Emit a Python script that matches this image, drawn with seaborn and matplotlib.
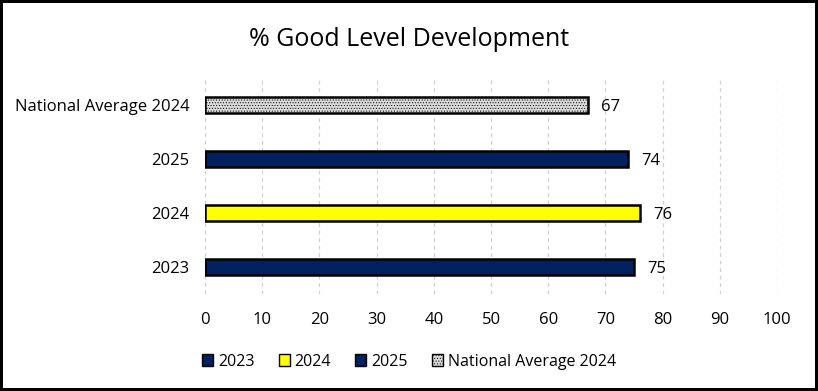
import matplotlib
matplotlib.use("Agg")
import matplotlib.pyplot as plt
import matplotlib.patches as mpatches
import pandas as pd
import seaborn as sns

# data (top to bottom as drawn)
categories = ["National Average 2024", "2025", "2024", "2023"]
values = [67, 74, 76, 75]
legend_order = ["2023", "2024", "2025", "National Average 2024"]
colors = {"2023": "#002060", "2024": "#FFFF00", "2025": "#002060",
          "National Average 2024": "#D9D9D9"}

df = pd.DataFrame({"group": categories, "pct": values})

sns.set_style("white")
plt.rcParams['font.family'] = ['Open Sans', 'DejaVu Sans']
plt.rcParams['hatch.color'] = "#BDBDBD"
plt.rcParams['hatch.linewidth'] = 0.4
plt.rcParams['text.color'] = "black"
plt.rcParams['xtick.color'] = "black"
plt.rcParams['ytick.color'] = "black"

fig = plt.figure(figsize=(8.18, 3.91), dpi=100)
fig.patch.set_edgecolor("black")
fig.patch.set_linewidth(3)
ax = fig.add_axes([0.2506, 0.248, 0.6993, 0.5525])

sns.barplot(data=df, y="group", x="pct", hue="group", order=categories,
            palette=colors, saturation=1, dodge=False, legend=False, width=0.31,
            edgecolor="black", linewidth=1.8, ax=ax)

# dotted fill for the national bar
for bar, cat in zip(ax.patches, categories):
    if cat == "National Average 2024":
        bar.set_hatch("......")

for bar, v in zip(ax.patches, values):
    ax.text(bar.get_width() + 2.3, bar.get_y() + bar.get_height() / 2 + 0.04,
            f"{v}", va="center", ha="left", fontsize=12)

ax.set_xlim(0, 100)
ax.set_xticks(range(0, 101, 10))
ax.xaxis.grid(True, color="#D0D0D0", linestyle=(0, (3, 3)), linewidth=0.9)
ax.set_axisbelow(True)
for s in ax.spines.values():
    s.set_visible(False)
ax.set_xlabel("")
ax.set_ylabel("")
ax.tick_params(axis="both", length=0, labelsize=12)
ax.tick_params(axis="x", pad=13)
ax.tick_params(axis="y", pad=11)

fig.suptitle("% Good Level Development", y=0.93, fontsize=18)

handles = [mpatches.Patch(facecolor=colors[c], edgecolor="black", linewidth=1,
                          hatch="......" if c.startswith("National") else None)
           for c in legend_order]
fig.legend(handles, legend_order, loc="center", bbox_to_anchor=(0.5, 0.075),
           ncol=4, frameon=False, fontsize=11.5, handlelength=0.7, handleheight=0.7,
           handletextpad=0.3, columnspacing=1.5)

fig.savefig("out.png", dpi=100, edgecolor=fig.get_edgecolor())
